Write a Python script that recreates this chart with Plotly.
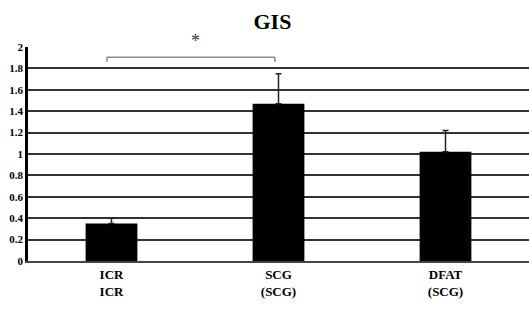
import plotly.graph_objects as go

categories = ["ICR<br>ICR", "SCG<br>(SCG)", "DFAT<br>(SCG)"]
values = [0.35, 1.47, 1.02]
errors = [0.05, 0.28, 0.20]
y_ticks = [0, 0.2, 0.4, 0.6, 0.8, 1, 1.2, 1.4, 1.6, 1.8, 2]
y_tick_labels = ["0", "0.2", "0.4", "0.6", "0.8", "1", "1.2", "1.4", "1.6", "1.8", "2"]

FONT = "Liberation Serif, serif"

fig = go.Figure()
fig.add_trace(go.Bar(
    x=[0, 1, 2], y=values,
    marker=dict(color="black", line=dict(width=0)),
    width=0.31,
    error_y=dict(type="data", array=errors, arrayminus=[0, 0, 0], symmetric=False,
                 color="#222", thickness=1.5, width=3),
))
fig.add_shape(type="path", xref="x", yref="y",
              path="M -0.027 1.86 L -0.027 1.905 L 0.979 1.905 L 0.979 1.86",
              line=dict(color="#555", width=1))
fig.add_annotation(x=0.5, y=2.0, xref="x", yref="y", text="*", showarrow=False,
                   yanchor="bottom", yshift=-6,
                   font=dict(family=FONT, size=18, color="#333"))

fig.update_layout(
    template="none",
    width=529, height=334,
    margin=dict(l=28, r=0, t=47, b=73),
    paper_bgcolor="white", plot_bgcolor="white",
    showlegend=False,
    title=dict(text="<b>GIS</b>", x=0.515, xanchor="center", y=0.935, yanchor="middle",
               font=dict(family=FONT, size=22, color="black")),
    font=dict(family=FONT, color="black"),
)
fig.update_xaxes(
    range=[-0.5, 2.5],
    tickmode="array", tickvals=[0, 1, 2],
    ticktext=["<b>" + c.replace("<br>", "</b><br><b>") + "</b>" for c in categories],
    tickfont=dict(family=FONT, size=13, color="black"),
    showline=True, linecolor="#444", linewidth=2,
    ticks="", showgrid=False, zeroline=False,
)
fig.update_yaxes(
    range=[0, 2.0],
    tickmode="array", tickvals=y_ticks,
    ticktext=["<b>" + t + "</b>" for t in y_tick_labels],
    tickfont=dict(family=FONT, size=11, color="black"),
    showgrid=True, gridcolor="#333", gridwidth=1.5,
    showline=True, linecolor="black", linewidth=2.5,
    ticks="", zeroline=False,
)

fig.write_html("out.html")
